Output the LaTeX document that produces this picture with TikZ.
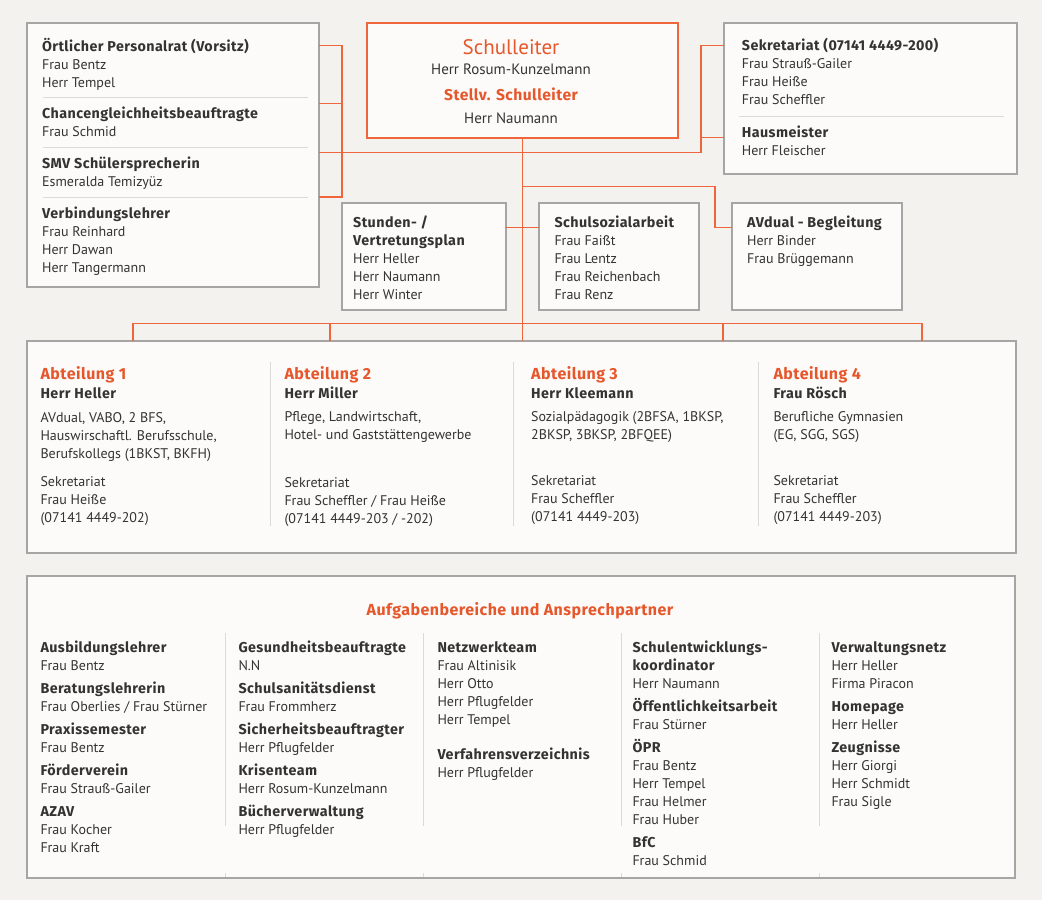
\documentclass[tikz,border=0pt]{standalone}
\usepackage{fontspec}
\setmainfont{PT Sans}
\newfontfamily\hdfont{Fira Sans}[LetterSpace=3]
\definecolor{bgc}{HTML}{F3F2EE}
\definecolor{boxf}{HTML}{FCFBF9}
\definecolor{boxc}{HTML}{A5A5A3}
\definecolor{lnc}{HTML}{F0653C}
\definecolor{orc}{HTML}{E6572B}
\definecolor{txc}{HTML}{333333}
\definecolor{divc}{HTML}{DADADA}
\newcommand\fsz[1]{\fontsize{#1}{#1}\selectfont}
\newcommand\hd[1]{{\hdfont\bfseries\fsz{14.3}#1}}
\newcommand\blk[5]{\foreach \xx [count=\i] in {#5} {\node[txt,font=#4] (#1-\i) at ({#2},{#3+18*(\i-1)}) {\xx};}}
\tikzset{
  box/.style={draw=boxc, fill=boxf, line width=1.2pt, anchor=north west, inner sep=0pt, outer sep=0pt},
  hbox/.style={box, draw=lnc},
  conn/.style={draw=lnc, line width=1.3pt},
  txt/.style={anchor=base west, inner sep=0pt, text=txc},
  ctxt/.style={anchor=base, inner sep=0pt, text=txc},
  divl/.style={draw=divc, line width=1pt},
}
\begin{document}
\begin{tikzpicture}[x=1pt,y=-1pt]
\fill[bgc] (0,0) rectangle (1042,900);
\useasboundingbox (0,0) rectangle (1042,900);

% connector junctions
\coordinate (L) at (342,45.3);
\coordinate (Lb) at (342,197);
\coordinate (M) at (342,152.7);
\coordinate (R) at (701,152.7);
\coordinate (Rt) at (701,45.3);
\coordinate (Rh) at (701,137.7);
\coordinate (L2) at (342,103.3);
\coordinate (A1) at (522.5,186.7);
\coordinate (A2) at (715,227.3);
\coordinate (S1) at (522.5,227.3);
\coordinate (B0) at (133,323.3);
\coordinate (B1) at (330,323.3);
\coordinate (B3) at (723,323.3);
\coordinate (B4) at (922,323.3);

% boxes
\node[box, minimum width=292, minimum height=264] (pr) at (27,23) {};
\node[hbox, minimum width=311, minimum height=115] (sl) at (367,23) {};
\node[box, minimum width=293, minimum height=151] (sek) at (724,23) {};
\node[box, minimum width=164, minimum height=107] (st) at (342,203) {};
\node[box, minimum width=160, minimum height=107] (ss) at (539,203) {};
\node[box, minimum width=170, minimum height=107] (av) at (732,203) {};
\node[box, minimum width=989, minimum height=212] (dept) at (27,341) {};
\node[box, minimum width=988, minimum height=302] (aufg) at (27,576) {};

\draw[conn] (pr.east|-L) -- (L) -- (Lb) -- (pr.east|-Lb);
\draw[conn] (pr.east|-L2) -- (L2);
\draw[conn] (pr.east|-M) -- (R) -- (Rt) -- (sek.west|-Rt);
\draw[conn] (Rh) -- (sek.west|-Rh);
\draw[conn] (sl.south) -- (sl.south|-dept.north);
\draw[conn] (A1) -| (A2) -- (av.west|-A2);
\draw[conn] (st.east|-S1) -- (ss.west|-S1);
\draw[conn] (B0) -- (B4);
\foreach \b in {B0,B1,B3,B4} {\draw[conn] (\b) -- (\b|-dept.north);}

% dividers
\foreach \yy in {97,147,197} {\draw[divl] (43,\yy) -- (308,\yy);}
\draw[divl] (739,116) -- (1004,116);
\foreach \xx in {270,513,758} {\draw[divl] (\xx,362) -- (\xx,526);}
\foreach \xx in {225,423,621,819} {\draw[divl] (\xx,633) -- (\xx,826); \draw[divl] (\xx,873) -- (\xx,877);}

% top-left box
\blk{p1}{42}{51}{\fsz{14}}{\hd{Örtlicher Personalrat (Vorsitz)},Frau Bentz,Herr Tempel}
\blk{p2}{42}{118.7}{\fsz{14}}{\hd{Chancengleichheitsbeauftragte},Frau Schmid}
\blk{p3}{42}{168.7}{\fsz{14}}{\hd{SMV Schülersprecherin},Esmeralda Temizyüz}
\blk{p4}{42}{218.7}{\fsz{14}}{\hd{Verbindungslehrer},Frau Reinhard,Herr Dawan,Herr Tangermann}

% Schulleiter
\node[ctxt, text=orc, font=\fsz{21}] (sl1) at (511,54.3) {Schulleiter};
\node[ctxt, font=\fsz{15}] (sl2) at (511,74) {Herr Rosum-Kunzelmann};
\node[ctxt, text=orc, font=\hdfont\bfseries\fsz{15.6}] (sl3) at (511,100.7) {Stellv. Schulleiter};
\node[ctxt, font=\fsz{15}] (sl4) at (511,123.3) {Herr Naumann};

% Sekretariat
\blk{s1}{741.7}{50.7}{\fsz{14}}{\hd{Sekretariat (07141 4449-200)},Frau Strauß-Gailer,Frau Heiße,Frau Scheffler}
\blk{s2}{741.7}{137.7}{\fsz{14}}{\hd{Hausmeister},Herr Fleischer}

% middle row
\blk{st}{353}{227.3}{\fsz{14}}{\hd{Stunden- /},\hd{Vertretungsplan},Herr Heller,Herr Naumann,Herr Winter}
\blk{so}{554.3}{227.3}{\fsz{14}}{\hd{Schulsozialarbeit},Frau Faißt,Frau Lentz,Frau Reichenbach,Frau Renz}
\blk{av}{747}{227.3}{\fsz{14}}{\hd{AVdual - Begleitung},Herr Binder,Frau Brüggemann}

% departments
\tikzset{dh/.style={txt, text=orc, font=\hdfont\bfseries\fsz{16}}, dp/.style={txt, font=\hdfont\bfseries\fsz{14.3}}}
\node[dh] (d1h) at (40.3,379.5) {Abteilung 1};
\node[dp] (d1p) at (40.3,398.3) {Herr Heller};
\blk{d1a}{40.3}{422.5}{\fsz{14}}{{AVdual, VABO, 2 BFS,},{Hauswirschaftl. Berufsschule,},{Berufskollegs (1BKST, BKFH)}}
\blk{d1b}{40.3}{486.5}{\fsz{14}}{Sekretariat,Frau Heiße,(07141 4449-202)}

\node[dh] (d2h) at (284.3,379.5) {Abteilung 2};
\node[dp] (d2p) at (284.3,398) {Herr Miller};
\blk{d2a}{284.3}{421.7}{\fsz{14}}{{Pflege, Landwirtschaft,},{Hotel- und Gaststättengewerbe}}
\blk{d2b}{284.3}{487}{\fsz{14}}{Sekretariat,Frau Scheffler / Frau Heiße,(07141 4449-203 / -202)}

\node[dh] (d3h) at (531,379) {Abteilung 3};
\node[dp] (d3p) at (531,398.3) {Herr Kleemann};
\blk{d3a}{531}{421.7}{\fsz{14}}{{Sozialpädagogik (2BFSA, 1BKSP,},{2BKSP, 3BKSP, 2BFQEE)}}
\blk{d3b}{531}{485.3}{\fsz{14}}{Sekretariat,Frau Scheffler,(07141 4449-203)}

\node[dh] (d4h) at (773.3,379.5) {Abteilung 4};
\node[dp] (d4p) at (773.3,398.3) {Frau Rösch};
\blk{d4a}{773.3}{421.7}{\fsz{14}}{Berufliche Gymnasien,{(EG, SGG, SGS)}}
\blk{d4b}{773.3}{485.5}{\fsz{14}}{Sekretariat,Frau Scheffler,(07141 4449-203)}

% Aufgabenbereiche
\node[ctxt, text=orc, font=\hdfont\bfseries\fsz{16}] (at) at (520,615) {Aufgabenbereiche und Ansprechpartner};

\blk{c1a}{40.3}{652}{\fsz{14}}{\hd{Ausbildungslehrer},Frau Bentz}
\blk{c1b}{40.3}{693}{\fsz{14}}{\hd{Beratungslehrerin},Frau Oberlies / Frau Stürner}
\blk{c1c}{40.3}{734}{\fsz{14}}{\hd{Praxissemester},Frau Bentz}
\blk{c1d}{40.3}{775}{\fsz{14}}{\hd{Förderverein},Frau Strauß-Gailer}
\blk{c1e}{40.3}{816}{\fsz{14}}{\hd{AZAV},Frau Kocher,Frau Kraft}

\blk{c2a}{238.3}{652}{\fsz{14}}{\hd{Gesundheitsbeauftragte},N.N}
\blk{c2b}{238.3}{693}{\fsz{14}}{\hd{Schulsanitätsdienst},Frau Frommherz}
\blk{c2c}{238.3}{734}{\fsz{14}}{\hd{Sicherheitsbeauftragter},Herr Pflugfelder}
\blk{c2d}{238.3}{775}{\fsz{14}}{\hd{Krisenteam},Herr Rosum-Kunzelmann}
\blk{c2e}{238.3}{816}{\fsz{14}}{\hd{Bücherverwaltung},Herr Pflugfelder}

\blk{c3a}{437.3}{652}{\fsz{14}}{\hd{Netzwerkteam},Frau Altinisik,Herr Otto,Herr Pflugfelder,Herr Tempel}
\blk{c3b}{437.3}{759.5}{\fsz{14}}{\hd{Verfahrensverzeichnis},Herr Pflugfelder}

\blk{c4a}{632.3}{652}{\fsz{14}}{\hd{Schulentwicklungs-},\hd{koordinator},Herr Naumann}
\blk{c4b}{632.3}{711}{\fsz{14}}{\hd{Öffentlichkeitsarbeit},Frau Stürner}
\blk{c4c}{632.3}{752}{\fsz{14}}{\hd{ÖPR},Frau Bentz,Herr Tempel,Frau Helmer,Frau Huber}
\blk{c4d}{632.3}{847}{\fsz{14}}{\hd{BfC},Frau Schmid}

\blk{c5a}{831.3}{652}{\fsz{14}}{\hd{Verwaltungsnetz},Herr Heller,Firma Piracon}
\blk{c5b}{831.3}{711}{\fsz{14}}{\hd{Homepage},Herr Heller}
\blk{c5c}{831.3}{752}{\fsz{14}}{\hd{Zeugnisse},Herr Giorgi,Herr Schmidt,Frau Sigle}
\end{tikzpicture}
\end{document}
